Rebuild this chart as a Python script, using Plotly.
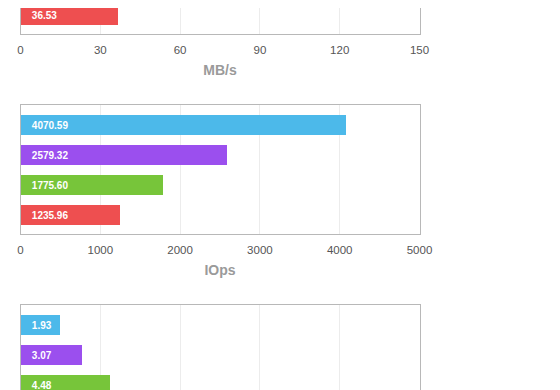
import plotly.graph_objects as go

# ---- data ----
categories = ["Config A", "Config B", "Config C", "Config D"]
bar_colors = ["#4cb9ea", "#9b4fee", "#77c53a", "#ee4f50"]

mbs_categories = ["Config D"]
mbs_values = [36.53]
mbs_ticks = [0, 30, 60, 90, 120, 150]

iops_categories = ["Config A", "Config B", "Config C", "Config D"]
iops_values = [4070.59, 2579.32, 1775.60, 1235.96]
iops_ticks = [0, 1000, 2000, 3000, 4000, 5000]

lat_categories = ["Config A", "Config B", "Config C"]
lat_values = [1.93, 3.07, 4.48]
lat_ticks = [0, 4, 8, 12, 16, 20]

OFF = 8  # default page margin around the plot div
W, H = 560 - OFF, 390 - OFF
FONT = "Liberation Sans, Arial, Helvetica, sans-serif"
PAD = "\u00a0\u00a0\u00a0"

def py(px):
    return 1 - (px - OFF) / H

def pxx(px):
    return (px - OFF) / W

x_dom = [pxx(20.5), pxx(419.5)]

fig = go.Figure()

def add_bars(cats, vals, xa, ya):
    cols = [bar_colors[categories.index(c)] for c in cats]
    fig.add_trace(go.Bar(
        y=cats, x=vals, orientation="h",
        marker=dict(color=cols, line=dict(width=0)),
        width=0.667,
        text=[PAD + f"{v:.2f}" for v in vals],
        textposition="inside", insidetextanchor="start",
        textfont=dict(color="white", size=10, family=FONT, weight="bold"),
        constraintext="none",
        xaxis=xa, yaxis=ya, showlegend=False, hoverinfo="skip",
    ))

add_bars(mbs_categories, mbs_values, "x", "y")
add_bars(iops_categories, iops_values, "x2", "y2")
add_bars(lat_categories, lat_values, "x3", "y3")

line_col = "#b8b8b8"
grid_col = "#ececec"
tickfont = dict(size=11.5, color="#555555", family=FONT)
titlefont = dict(size=14, color="#9a9a9a", family=FONT, weight="bold")

def xaxis(ticks, anchor, title=None, mirror=False, side="bottom", labels=True):
    return dict(
        domain=x_dom, anchor=anchor, range=[ticks[0], ticks[-1]],
        tickvals=ticks, ticktext=[str(t) for t in ticks],
        showgrid=True, gridcolor=grid_col, gridwidth=1, zeroline=False,
        showline=True, linecolor=line_col, linewidth=1, mirror=mirror,
        ticks="outside", ticklen=5, tickcolor="rgba(0,0,0,0)",
        showticklabels=labels, tickfont=tickfont, side=side,
        title=dict(text=title, font=titlefont, standoff=10) if title else None,
        automargin=False, fixedrange=True,
    )

def yaxis(domain, rng, anchor):
    return dict(
        domain=domain, anchor=anchor, range=rng, type="category",
        categoryorder="array", categoryarray=categories,
        showticklabels=False, showgrid=False, zeroline=False,
        showline=True, linecolor=line_col, linewidth=1, mirror=True,
        ticks="", automargin=False, fixedrange=True,
    )

fig.update_layout(
    width=W, height=H,
    margin=dict(l=0, r=0, t=0, b=0, autoexpand=False),
    paper_bgcolor="white", plot_bgcolor="white",
    bargap=0,
    xaxis=xaxis(mbs_ticks, "y", title="MB/s"),
    yaxis=yaxis([py(34), 1], [3.633, 3.633 - (34 - OFF) / 30], "x"),
    xaxis2=xaxis(iops_ticks, "y2", title="IOps", mirror=True),
    yaxis2=yaxis([py(234), py(105)], [3.633, -0.667], "x2"),
    xaxis3=xaxis(lat_ticks, "y3", side="top", labels=False),
    yaxis3=yaxis([0, py(305)], [-0.667 + 85 / 30, -0.667], "x3"),
)

fig.write_html("out.html")
